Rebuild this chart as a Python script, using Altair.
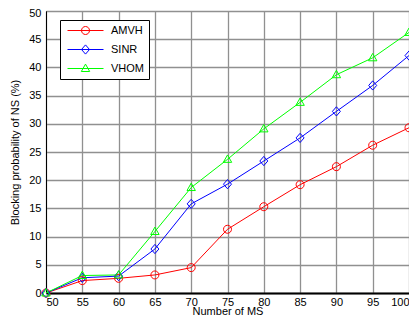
import altair as alt
import pandas as pd

x_vals = [50, 55, 60, 65, 70, 75, 80, 85, 90, 95, 100]
amvh = [0, 2.2, 2.6, 3.2, 4.5, 11.3, 15.3, 19.2, 22.4, 26.2, 29.3]
sinr = [0, 2.7, 3.0, 7.8, 15.8, 19.3, 23.4, 27.5, 32.2, 36.8, 42.1]
vhom = [0, 3.1, 3.2, 10.9, 18.7, 23.7, 29.1, 33.8, 38.7, 41.7, 46.2]
series_names = ["AMVH", "SINR", "VHOM"]
series_colors = ["#ff0000", "#0000ff", "#00ff00"]
x_ticks = [50, 55, 60, 65, 70, 75, 80, 85, 90, 95, 100]
y_ticks = [0, 5, 10, 15, 20, 25, 30, 35, 40, 45, 50]

# marker shapes in unit coordinates
shape_paths = [
    "M 1 0 A 1 1 0 1 1 -1 0 A 1 1 0 1 1 1 0 Z",
    "M 0 -1.15 L 1 0 L 0 1.15 L -1 0 Z",
    "M 0 -1.1 L 1.05 0.75 L -1.05 0.75 Z",
]
# legend symbols: a line segment through the marker
legend_paths = ["M -4.5 0 L 4.5 0 " + p for p in shape_paths]

rows = []
for name, vals in zip(series_names, [amvh, sinr, vhom]):
    for xv, yv in zip(x_vals, vals):
        rows.append({"x": xv, "y": yv, "series": name})
df = pd.DataFrame(rows)

FONT = "Liberation Sans"

color_scale = alt.Scale(domain=series_names, range=series_colors)

x_enc = alt.X(
    "x:Q",
    scale=alt.Scale(domain=[50, 100], nice=False, zero=False),
    axis=alt.Axis(
        values=x_ticks,
        title="Number of MS",
        format="d",
        titleY=21.5,
        titleBaseline="alphabetic",
        labelPadding=3,
    ),
)
y_enc = alt.Y(
    "y:Q",
    scale=alt.Scale(domain=[0, 50], nice=False),
    axis=alt.Axis(
        values=y_ticks,
        title="Blocking probability of NS (%)",
        format="d",
        labelPadding=5,
        titlePadding=8,
        labelOffset={"condition": {"test": "datum.value == 50", "value": 2}, "value": 0},
    ),
)

legend_def = alt.Legend(
    title=None,
    orient="none",
    legendX=14,
    legendY=9,
    fillColor="white",
    strokeColor="black",
    padding=5,
    rowPadding=5,
    symbolOffset=15,
    labelOffset=20,
    symbolSize=64,
    symbolStrokeWidth=1,
    symbolOpacity=1,
    symbolFillColor="transparent",
    labelFont=FONT,
    labelFontSize=11,
    labelColor="black",
    labelExpr="datum.label + '   '",
)

legend_layer = (
    alt.Chart(df)
    .transform_filter("false")
    .mark_point(filled=False, size=64, strokeWidth=1)
    .encode(
        x=x_enc,
        y=y_enc,
        color=alt.Color("series:N", scale=color_scale, legend=legend_def),
        shape=alt.Shape(
            "series:N",
            scale=alt.Scale(domain=series_names, range=legend_paths),
            legend=legend_def,
        ),
    )
)

lines = alt.Chart(df).mark_line(strokeWidth=1).encode(
    x=x_enc, y=y_enc, color=alt.Color("series:N", scale=color_scale)
)

point_layers = []
for name, path in zip(series_names, shape_paths):
    point_layers.append(
        alt.Chart(df)
        .transform_filter(alt.datum.series == name)
        .mark_point(filled=False, size=64, strokeWidth=1, opacity=1, shape=path)
        .encode(x=x_enc, y=y_enc, color=alt.Color("series:N", scale=color_scale))
    )

chart = (
    alt.layer(legend_layer, lines, *point_layers)
    .properties(
        width=363,
        height=282,
        autosize=alt.AutoSizeParams(type="none"),
        padding={"left": 38, "top": 3, "right": 0, "bottom": 22},
    )
    .configure(background="white")
    .configure_view(stroke="black", strokeWidth=1)
    .configure_axis(
        labelFont=FONT,
        titleFont=FONT,
        labelFontSize=11,
        titleFontSize=11,
        titleFontWeight="normal",
        labelColor="black",
        titleColor="black",
        domainColor="black",
        ticks=False,
        tickSize=0,
        gridColor="#909090",
        gridOpacity=1,
        gridWidth=1.3,
    )
    .configure_axisX(domainWidth=2)
)

chart.save("out.html", embed_options={"renderer": "svg", "actions": False})
